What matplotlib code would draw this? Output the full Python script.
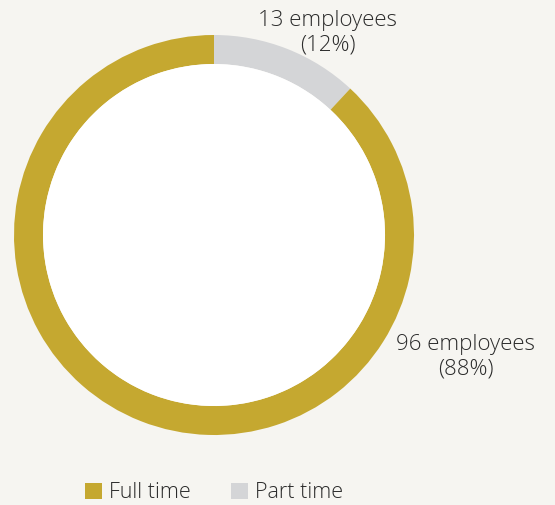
import matplotlib.pyplot as plt
from matplotlib.patches import Patch, Circle

categories = ['Part time', 'Full time']
employees = [13, 96]
shares = ['12%', '88%']
legend_order = ['Full time', 'Part time']

colors = {'Full time': '#c5a830', 'Part time': '#d4d5d7'}
bg = '#f6f5f1'

plt.rcParams['font.family'] = ['Open Sans', 'DejaVu Sans']

fig = plt.figure(figsize=(5.55, 5.05), dpi=100, facecolor=bg)
ax = fig.add_axes([0, 0, 1, 1])
ax.set_facecolor(bg)

cx, cy, r = 214, 505 - 235, 200
ax.pie(employees, colors=[colors[c] for c in categories], startangle=90,
       counterclock=False, center=(cx, cy), radius=r,
       wedgeprops=dict(width=29, linewidth=0), frame=True)
ax.add_patch(Circle((cx, cy), r - 29, facecolor='white', edgecolor='none', zorder=5))
ax.set_xlim(0, 555)
ax.set_ylim(0, 505)
ax.set_aspect('equal')
ax.axis('off')

txt = '#2b2b2b'
ax.text(328, 505 - 33, f'{employees[0]} employees\n({shares[0]})', ha='center', va='center',
        fontsize=16, color=txt, linespacing=1.25, fontweight='light')
ax.text(466, 505 - 357, f'{employees[1]} employees\n({shares[1]})', ha='center', va='center',
        fontsize=16, color=txt, linespacing=1.25, fontweight='light')

handles = [Patch(facecolor=colors[c], edgecolor='none', label=c) for c in legend_order]
fig.legend(handles=handles, loc='center', bbox_to_anchor=(214 / 555, 1 - 493 / 505), ncol=2,
           frameon=False, handlelength=0.8, handleheight=0.8,
           handletextpad=0.3, columnspacing=1.9, labelcolor=txt,
           prop={'weight': 'light', 'size': 15.5})

fig.savefig('out.png', dpi=100, facecolor=bg)
